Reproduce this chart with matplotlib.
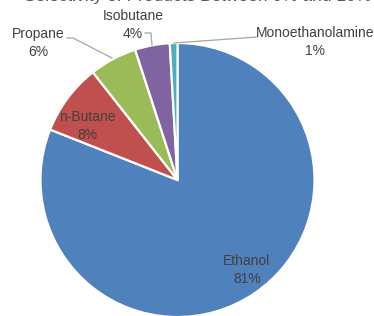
import matplotlib
matplotlib.use("Agg")
import matplotlib.pyplot as plt

categories = ["Ethanol", "n-Butane", "Propane", "Isobutane", "Monoethanolamine"]
values = [81.0, 8.4, 5.6, 4.1, 0.9]
colors = ["#4F81BD", "#C0504D", "#9BBB59", "#8064A2", "#4BACC6"]
title = "Selectivity of Products Between 0% and 10%"

W, H = 374, 316
plt.rcParams['font.family'] = ['Liberation Sans', 'DejaVu Sans']
fig = plt.figure(figsize=(W / 100, H / 100), dpi=100)
ax = fig.add_axes([0, 0, 1, 1])

def py(y):
    return H - y

cx, cy, r = 177.5, 180, 137
ax.pie(values, colors=colors, startangle=90, counterclock=False,
       center=(cx, py(cy)), radius=r, frame=True,
       wedgeprops=dict(edgecolor='white', linewidth=1.6))
ax.set_xlim(0, W)
ax.set_ylim(0, H)
ax.set_aspect('equal')
ax.axis('off')

total = sum(values)
pct = [f"{round(v / total * 100)}%" for v in values]
tc = "#404040"
fs = 10
label_pos = {
    "Ethanol": (247, 270),
    "n-Butane": (87, 126),
    "Propane": (38, 43),
    "Isobutane": (133, 25),
    "Monoethanolamine": (315, 42),
}
for cat, p in zip(categories, pct):
    x, y = label_pos[cat]
    ax.text(x, py(y), f"{cat}\n{p}", ha='center', va='center', color=tc,
            fontsize=fs, linespacing=1.4)

lc = "#A6A6A6"
lw = 0.9
ax.plot([67, 73, 112], [py(38), py(38), py(58)], color=lc, lw=lw)
ax.plot([145, 151, 152], [py(33), py(33), py(45)], color=lc, lw=lw)
ax.plot([174, 257], [py(43), py(37)], color=lc, lw=lw)

ax.text(371, py(1), title, ha='right', va='baseline', color="#595959",
        fontsize=12.5)

fig.savefig("out.png", dpi=100, facecolor='white')
